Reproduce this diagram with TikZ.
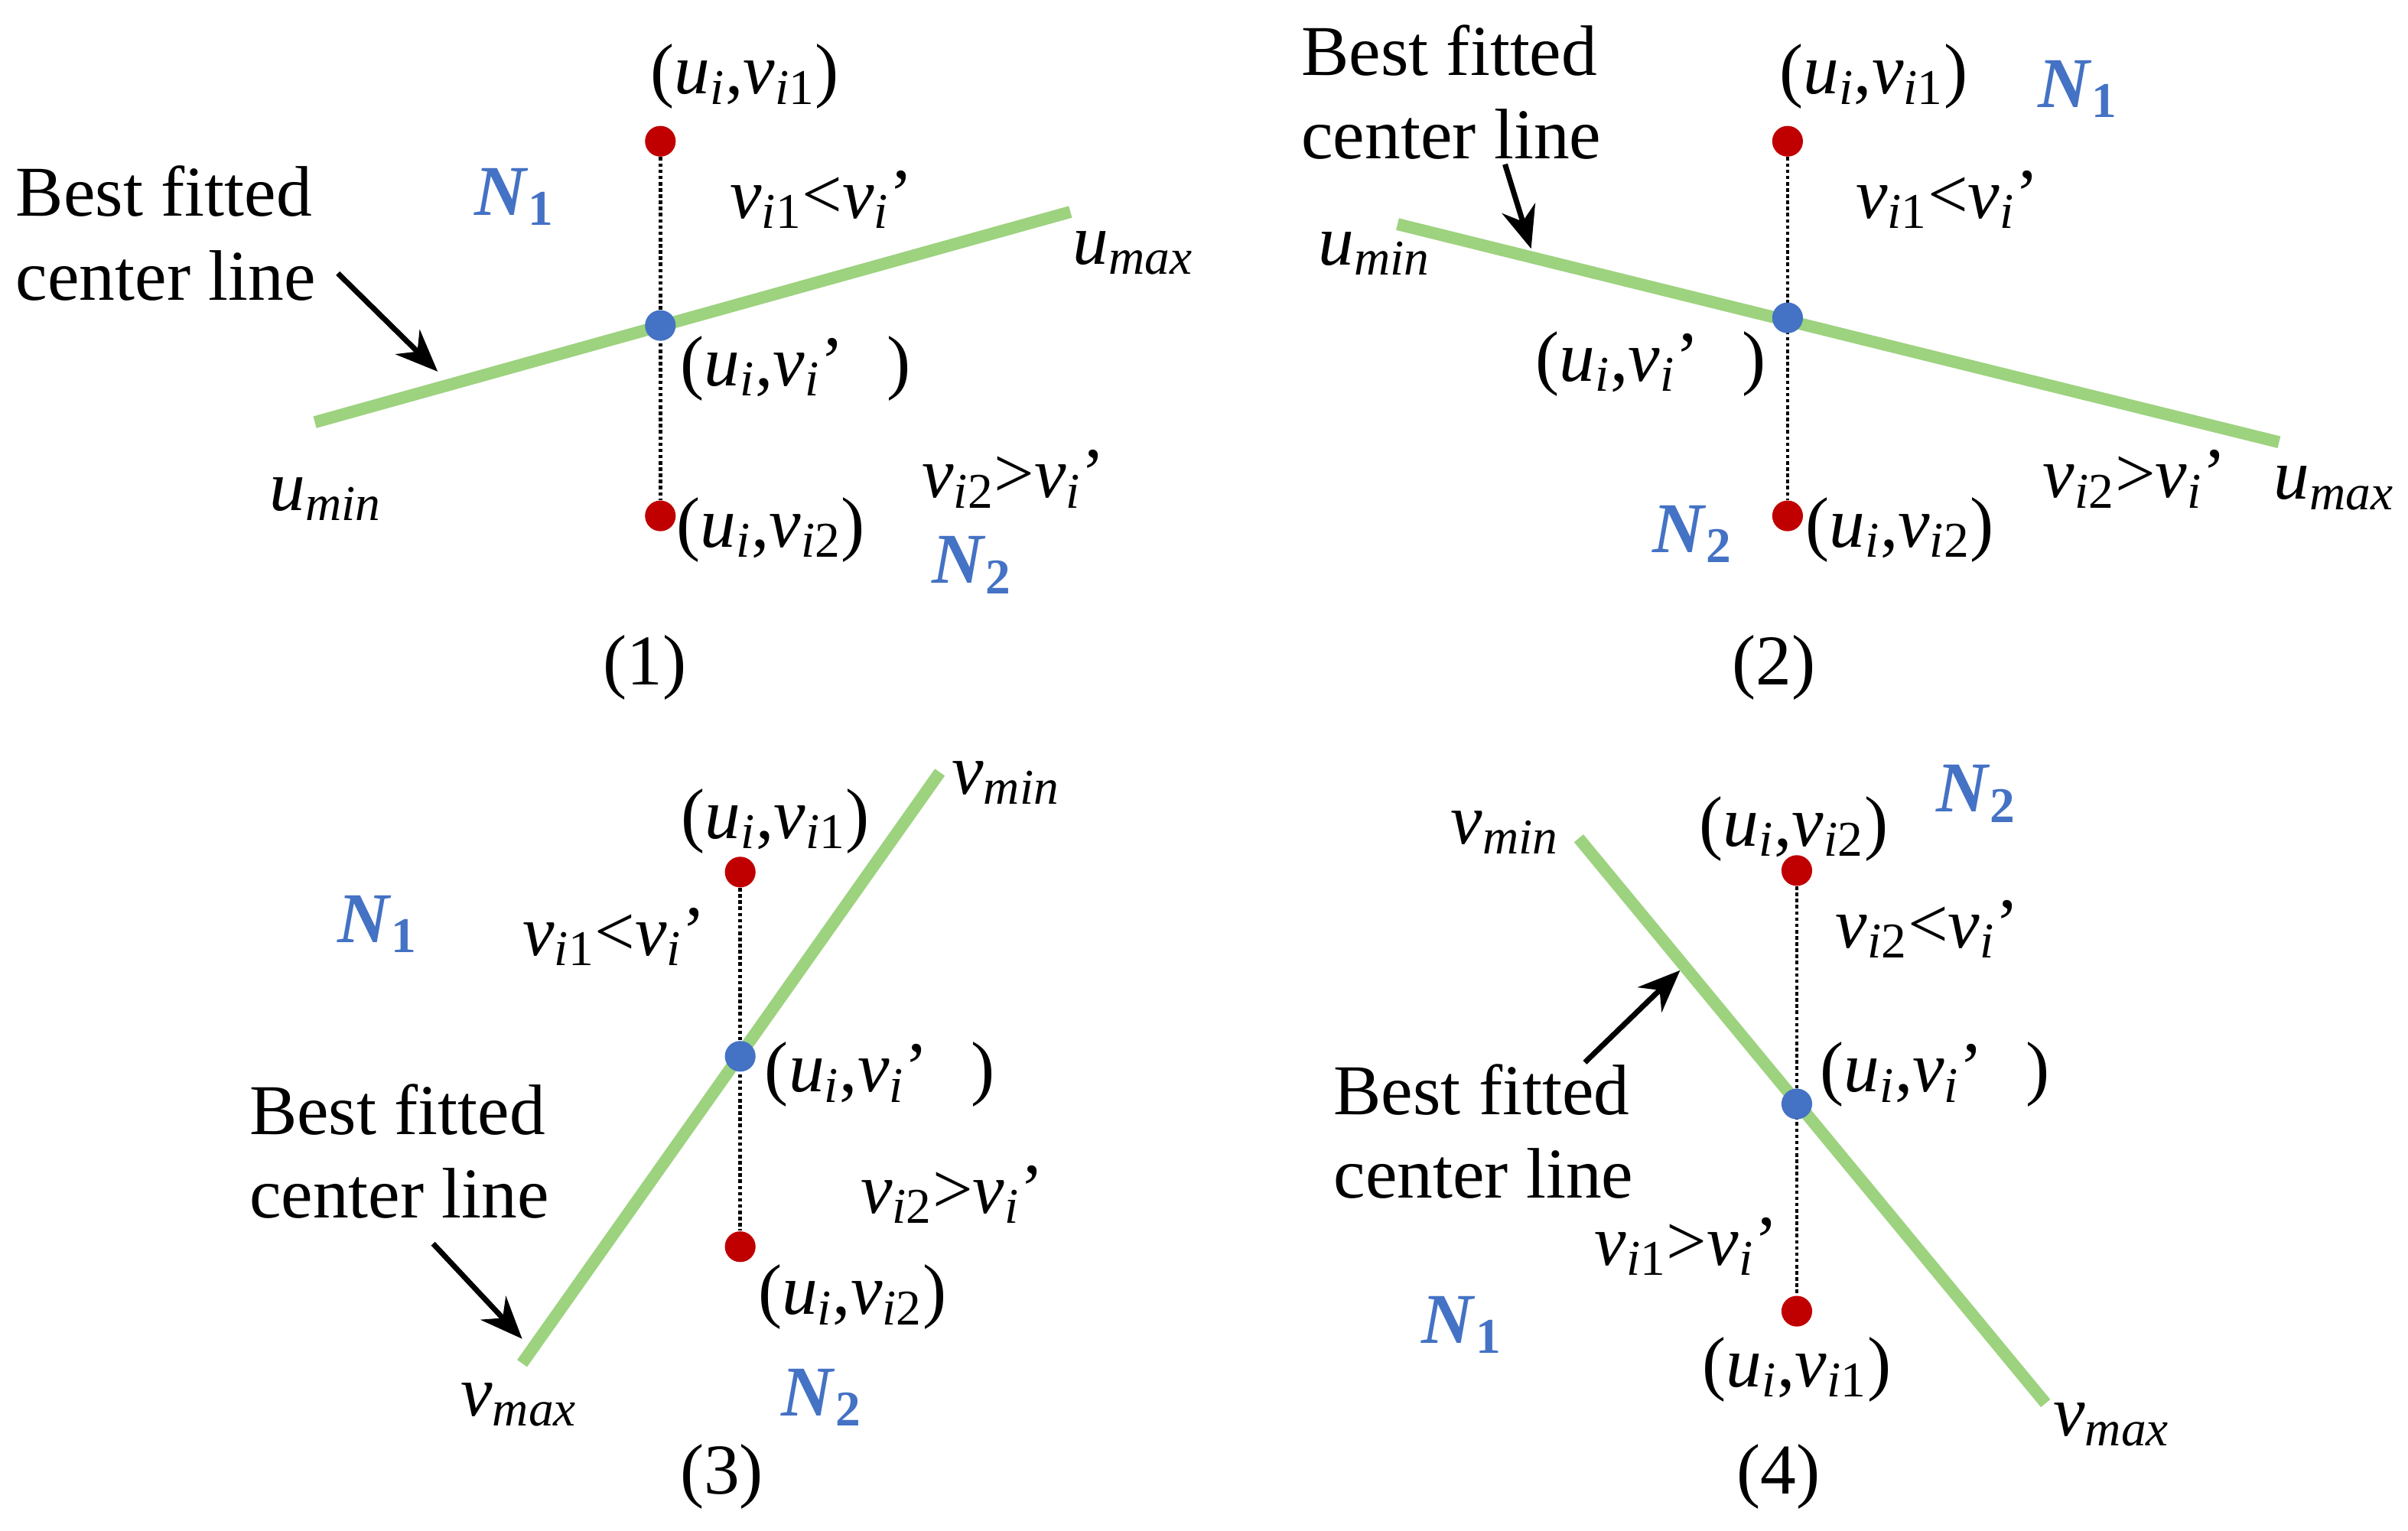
\documentclass[tikz,border=0pt]{standalone}
\usepackage{fontspec}
\setmainfont{Liberation Serif}
\usetikzlibrary{arrows.meta}
\definecolor{gl}{HTML}{9DD27F}
\definecolor{bl}{HTML}{4472C4}
\definecolor{rd}{HTML}{C00000}
\newcommand{\ui}{\textit{u}\textsubscript{\textit{i}}}
\newcommand{\vs}[1]{\textit{v}\textsubscript{\textit{#1}}}
\newcommand{\vv}[1]{\textit{v}\textsubscript{\textit{i}#1}}
\newcommand{\NN}[1]{\textcolor{bl}{\textbf{\textit{N}\textsubscript{#1}}}}
\begin{document}
\begin{tikzpicture}[x=0.02cm,y=-0.02cm,font=\fontsize{26.5}{31}\selectfont,
 cl/.style={gl,line width=4.5pt},
 dl/.style={densely dotted,line width=1.3pt},
 rdot/.style={circle,fill=rd,inner sep=0,minimum size=0.4cm},
 bdot/.style={circle,fill=bl,inner sep=0,minimum size=0.4cm},
 ar/.style={-{Stealth[length=0.55cm,width=0.45cm]},line width=2pt},
 t/.style={inner sep=0,anchor=center},
 bf/.style={align=left,inner sep=0}]
\useasboundingbox (0,0) rectangle (1568,997);
% panel 1
\coordinate (a1) at (205,275); \coordinate (b1) at (697,138);
\draw[cl] (a1)--(b1);
\node[rdot] (r11) at (430,92) {}; \node[rdot] (r12) at (430,336) {};
\draw[dl] (r11)--(r12);
\node[bdot] (c1) at (430,212) {};
\node[t] at (485,50) {(\ui,\vv{1})};
\node[t] at (335,128) {\NN{1}};
\node[t] at (535,130) {\vv{1}<\vs{i}’};
\node[t] at (738,165) {\textit{u}\textsubscript{\textit{max}}};
\node[t] at (518,240) {(\ui,\vs{i}’\hspace{0.6em})};
\node[t] at (212,325) {\textit{u}\textsubscript{\textit{min}}};
\node[t] at (660,312) {\vv{2}>\vs{i}’};
\node[t] at (502,345) {(\ui,\vv{2})};
\node[t] at (633,368) {\NN{2}};
\node[t] at (420,435) {(1)};
\node[bf] (bf1) at (108,152) {Best fitted\\center line};
\coordinate (e1) at (285,242);
\draw[ar] (220,178)--(e1);
% panel 2
\draw[cl] (910,146)--(1484,288);
\node[rdot] (r21) at (1164,92) {}; \node[rdot] (r22) at (1164,336) {};
\draw[dl] (r21)--(r22);
\node[bdot] (c2) at (1164,207) {};
\node[bf] (bf2) at (945,60) {Best fitted\\center line};
\coordinate (e2) at (997,162);
\draw[ar] (980,107)--(e2);
\node[t] at (895,165) {\textit{u}\textsubscript{\textit{min}}};
\node[t] at (1220,50) {(\ui,\vv{1})};
\node[t] at (1353,58) {\NN{1}};
\node[t] at (1268,130) {\vv{1}<\vs{i}’};
\node[t] at (1075,237) {(\ui,\vs{i}’\hspace{0.6em})};
\node[t] at (1390,312) {\vv{2}>\vs{i}’};
\node[t] at (1520,318) {\textit{u}\textsubscript{\textit{max}}};
\node[t] at (1102,348) {\NN{2}};
\node[t] at (1237,345) {(\ui,\vv{2})};
\node[t] at (1155,435) {(2)};
% panel 3
\draw[cl] (340,888)--(612,503);
\node[rdot] (r31) at (482,568) {}; \node[rdot] (r32) at (482,812) {};
\draw[dl] (r31)--(r32);
\node[bdot] (c3) at (482,688) {};
\node[t] at (655,510) {\vs{min}};
\node[t] at (505,535) {(\ui,\vv{1})};
\node[t] at (246,602) {\NN{1}};
\node[t] at (400,610) {\vv{1}<\vs{i}’};
\node[t] at (573,700) {(\ui,\vs{i}’\hspace{0.6em})};
\node[bf] (bf3) at (260,750) {Best fitted\\center line};
\coordinate (e3) at (340,872);
\draw[ar] (282,810)--(e3);
\node[t] at (620,778) {\vv{2}>\vs{i}’};
\node[t] at (555,845) {(\ui,\vv{2})};
\node[t] at (338,915) {\vs{max}};
\node[t] at (535,910) {\NN{2}};
\node[t] at (470,962) {(3)};
% panel 4
\draw[cl] (1028,546)--(1332,914);
\node[rdot] (r41) at (1170,567) {}; \node[rdot] (r42) at (1170,854) {};
\draw[dl] (r41)--(r42);
\node[bdot] (c4) at (1170,719) {};
\node[t] at (980,542) {\vs{min}};
\node[t] at (1168,540) {(\ui,\vv{2})};
\node[t] at (1287,517) {\NN{2}};
\node[t] at (1255,605) {\vv{2}<\vs{i}’};
\node[t] at (1260,700) {(\ui,\vs{i}’\hspace{0.6em})};
\node[bf] (bf4) at (966,737) {Best fitted\\center line};
\coordinate (e4) at (1094,632);
\draw[ar] (1032,692)--(e4);
\node[t] at (1098,812) {\vv{1}>\vs{i}’};
\node[t] at (952,863) {\NN{1}};
\node[t] at (1170,892) {(\ui,\vv{1})};
\node[t] at (1375,928) {\vs{max}};
\node[t] at (1158,962) {(4)};
\end{tikzpicture}
\end{document}
